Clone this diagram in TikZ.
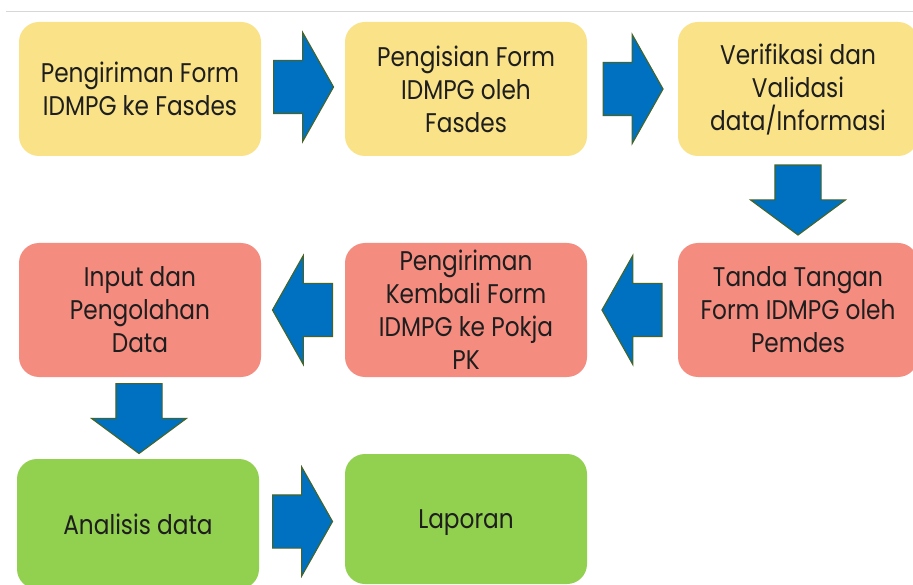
\documentclass[tikz,border=0pt]{standalone}
\usepackage{fontspec}
\setmainfont{Poppins}[FakeStretch=0.86]
\usepackage{tikz}
\usetikzlibrary{shapes.arrows, positioning, calc}
\definecolor{cYellow}{RGB}{249,226,135}
\definecolor{cSalmon}{RGB}{245,140,128}
\definecolor{cGreen}{RGB}{146,208,80}
\definecolor{cBlue}{RGB}{0,112,192}
\definecolor{cEdge}{RGB}{70,100,40}
\definecolor{cText}{RGB}{30,30,30}
\definecolor{cRule}{RGB}{215,215,215}
\tikzset{
	stepbox/.style={rectangle, rounded corners=20pt, minimum width=242pt, minimum height=134pt,
		inner sep=0pt, align=center, text=cText, font=\fontsize{27}{33}\selectfont},
	% block arrows between the steps
	blkarrow/.style={single arrow, draw=cEdge, fill=cBlue, line width=1.1pt, anchor=tail},
	harrow/.style={blkarrow, inner xsep=0pt, inner ysep=26pt, minimum height=60pt,
		single arrow head extend=28pt, single arrow tip angle=121},
	varrow/.style={blkarrow, inner xsep=22.5pt, inner ysep=0pt, minimum height=70pt,
		single arrow head extend=24.5pt, single arrow tip angle=107, shape border rotate=270},
}
\begin{document}
\begin{tikzpicture}[x=1pt, y=-1pt]
	\useasboundingbox (0,0) rectangle (913,585);
	\fill[white] (0,0) rectangle (913,585);
	\draw[cRule, line width=1pt] (6,11.5) -- (913,11.5);
	% row 1
	\node[stepbox, fill=cYellow] (kirim) at (140,89) {Pengiriman Form\\IDMPG ke Fasdes};
	\node[stepbox, fill=cYellow] (isi)   at (466,89) {Pengisian Form\\IDMPG oleh\\Fasdes};
	\node[stepbox, fill=cYellow, minimum width=240pt] (verif) at (798,89) {Verifikasi dan\\Validasi\\data/Informasi};
	% row 2
	\node[stepbox, fill=cSalmon] (input) at (140,310) {Input dan\\Pengolahan\\Data};
	\node[stepbox, fill=cSalmon] (balik) at (466,310) {Pengiriman\\Kembali Form\\IDMPG ke Pokja\\PK};
	\node[stepbox, fill=cSalmon, minimum width=240pt] (ttd) at (798,310) {Tanda Tangan\\Form IDMPG oleh\\Pemdes};
	% row 3
	\node[stepbox, fill=cGreen, minimum height=130pt] (analisis) at (138,524) {Analisis data};
	\node[stepbox, fill=cGreen, minimum height=130pt, text depth=0pt] (lapor) at (466,519) {Laporan};
	% arrows
	\node[harrow] (a1) at ($(kirim.east)!0.5!(isi.west)+(-30,-2)$) {};
	\node[harrow] (a2) at ($(isi.east)!0.5!(verif.west)+(-30,0)$) {};
	\node[varrow] (a3) at ($(verif.south)!0.5!(ttd.north)+(0,-35)$) {};
	\node[harrow, shape border rotate=180] (a4) at ($(ttd.west)!0.5!(balik.east)+(30,0)$) {};
	\node[harrow, shape border rotate=180] (a5) at ($(balik.west)!0.5!(input.east)+(30,0)$) {};
	\node[varrow] (a6) at ($(input.south)!0.5!(analisis.north)+(0,-35)$) {};
	\node[harrow] (a7) at ($(analisis.east)!0.5!(lapor.west)+(-30,0)$) {};
\end{tikzpicture}
\end{document}
